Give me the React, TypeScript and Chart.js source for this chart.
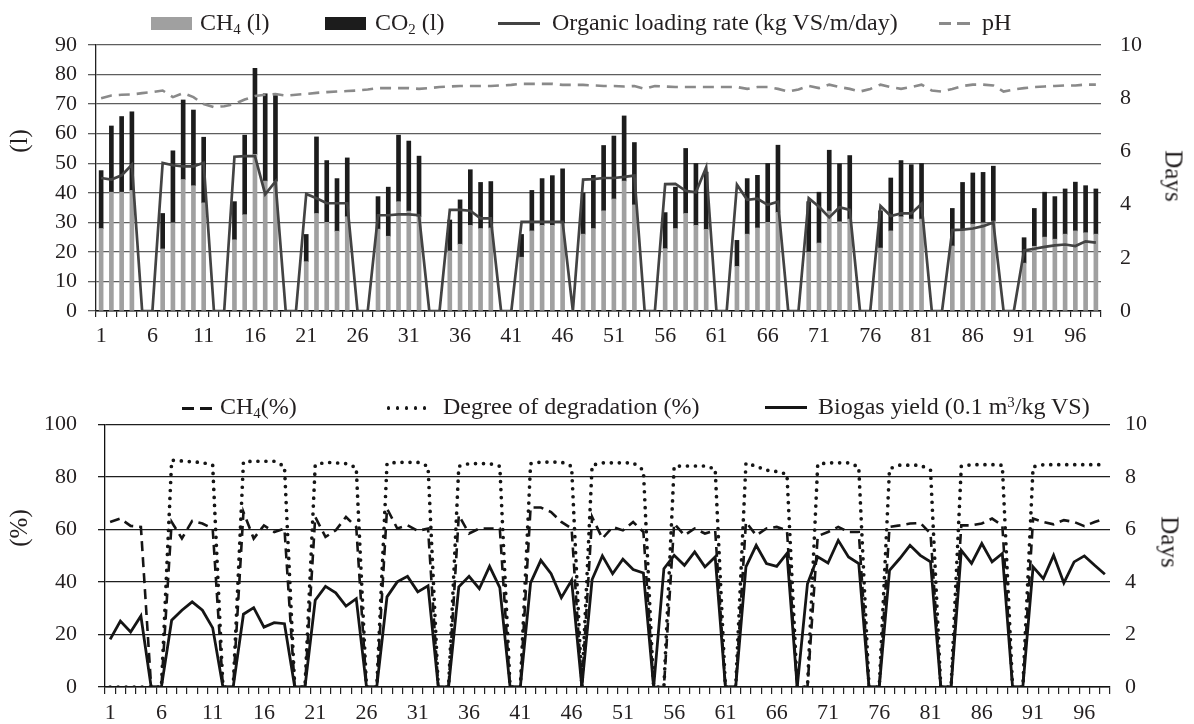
import React, { useEffect, useRef } from 'react';
import { Chart, registerables } from 'chart.js';

Chart.register(...registerables);

const FONT = "'Liberation Serif', 'Times New Roman', serif";
const INK = '#231f20';

// Day numbers on the category axis
const days: string[] = Array.from({ length: 98 }, (_, i) => String(i + 1));

// ---- Top panel ----
const ch4Litres = [
  27.9, 40.2, 40.2, 40.8, 0, 0, 21, 29.8, 44.5, 42.4,
  36.6, 0, 0, 24.1, 32.6, 53, 44, 43.8, 0, 0,
  16.7, 33, 30, 27, 31.9, 0, 0, 27.7, 25.3, 37,
  33.8, 31.9, 0, 0, 20.3, 22.6, 29, 27.9, 28.1, 0,
  0, 18.2, 27.1, 29, 29, 29.6, 0, 26, 27.9, 33.9,
  37.9, 44, 35.9, 0, 0, 21.1, 27.9, 33, 29, 27.6,
  0, 0, 15.1, 26, 28.1, 30, 33.4, 0, 0, 19.9,
  23, 33.8, 30.2, 31.1, 0, 0, 21.3, 27.1, 31.9, 31.1,
  31.1, 0, 0, 22, 27.3, 29.4, 29.8, 30.4, 0, 0,
  16.2, 21.9, 25, 24.3, 26, 27.1, 26.5, 26,
];

const co2Litres = [
  19.6, 22.4, 25.6, 26.6, 0, 0, 12, 24.4, 26.9, 25.6,
  22.2, 0, 0, 12.9, 26.9, 29.1, 29.5, 29.1, 0, 0,
  9.2, 25.9, 20.9, 17.8, 19.9, 0, 0, 11, 16.6, 22.5,
  23.7, 20.5, 0, 0, 10.5, 15, 18.8, 15.6, 15.7, 0,
  0, 7.7, 13.7, 15.8, 16.8, 18.5, 0, 13.9, 18, 22.1,
  21.3, 22, 21.1, 0, 0, 12.2, 14, 22, 20.9, 19.4,
  0, 0, 8.8, 18.8, 17.8, 19.9, 22.7, 0, 0, 17.1,
  17.2, 20.6, 19.6, 21.5, 0, 0, 12.6, 17.9, 19, 18.4,
  18.8, 0, 0, 12.7, 16.2, 17.3, 17.1, 18.6, 0, 0,
  8.6, 12.8, 15.2, 14.4, 15.3, 16.5, 15.9, 15.3,
];

const loadingRate = [
  5.0, 4.94, 5.1, 5.5, 0, 0, 5.57, 5.48, 5.44, 5.44,
  5.57, 0, 0, 5.8, 5.82, 5.82, 4.39, 4.87, 0, 0,
  4.4, 4.24, 4.05, 4.05, 4.05, 0, 0, 3.6, 3.6, 3.63,
  3.63, 3.6, 0, 0, 3.8, 3.8, 3.77, 3.48, 3.48, 0,
  0, 3.35, 3.35, 3.35, 3.35, 3.35, 0, 4.94, 4.96, 5.0,
  5.0, 5.04, 5.09, 0, 0, 4.77, 4.78, 4.52, 4.46, 5.4,
  0, 0, 4.75, 4.18, 4.22, 3.99, 4.11, 0, 0, 4.24,
  3.92, 3.52, 3.9, 3.8, 0, 0, 3.95, 3.57, 3.67, 3.67,
  4.03, 0, 0, 3.04, 3.06, 3.1, 3.19, 3.33, 0, 0,
  2.28, 2.34, 2.41, 2.47, 2.5, 2.44, 2.62, 2.57,
];

const phValues = [
  8.0, 8.1, 8.13, 8.14, 8.19, 8.23, 8.29, 8.04, 8.19, 8.04,
  7.78, 7.66, 7.7, 7.78, 7.95, 8.08, 8.13, 8.16, 8.1, 8.13,
  8.16, 8.2, 8.23, 8.25, 8.27, 8.29, 8.33, 8.38, 8.38, 8.38,
  8.38, 8.35, 8.38, 8.42, 8.44, 8.46, 8.46, 8.46, 8.46, 8.48,
  8.5, 8.54, 8.54, 8.54, 8.54, 8.5, 8.5, 8.5, 8.48, 8.46,
  8.46, 8.44, 8.46, 8.35, 8.46, 8.44, 8.42, 8.42, 8.42, 8.42,
  8.42, 8.42, 8.42, 8.35, 8.42, 8.42, 8.35, 8.25, 8.33, 8.46,
  8.38, 8.51, 8.42, 8.35, 8.25, 8.35, 8.51, 8.42, 8.35, 8.42,
  8.51, 8.29, 8.25, 8.35, 8.46, 8.51, 8.51, 8.48, 8.25, 8.33,
  8.38, 8.42, 8.44, 8.46, 8.48, 8.48, 8.51, 8.51,
];

// ---- Bottom panel ----
const ch4Percent = [
  62.8, 64.1, 61.3, 60.9, 0, 0, 62.8, 56.5, 63.2, 62.2,
  60.3, 0, 0, 66.6, 56.5, 61.5, 59, 60.3, 0, 0,
  64.7, 57.1, 59.6, 64.7, 60.9, 0, 0, 67.9, 60.3, 61.5,
  59.4, 60.3, 0, 0, 65.4, 58.4, 60.3, 60.3, 60.3, 0,
  0, 68.3, 68.3, 66.6, 62.8, 60.3, 0, 64.7, 56.5, 60.9,
  59.6, 62.8, 59, 0, 0, 62.2, 57.7, 60.3, 58.4, 59.6,
  0, 0, 62.8, 57.7, 60.3, 60.9, 59.6, 0, 0, 57.4,
  59, 60.9, 59, 59, 0, 0, 60.9, 61.5, 62.2, 62.4,
  58.4, 0, 0, 61.5, 61.5, 62.2, 64.1, 61.5, 0, 0,
  64.1, 62.8, 61.9, 63.5, 62.8, 61.2, 62.8, 64.1,
];

const degradation = [
  0, 0, 0, 0, 0, 0, 86.3, 86, 85.7, 85.4,
  84.4, 0, 0, 85.7, 85.9, 85.9, 85.9, 84, 0, 0,
  84.5, 85.5, 85.3, 85, 83.5, 0, 0, 85, 85.5, 85.5,
  85.5, 84, 0, 0, 84, 85, 85, 85, 84, 0,
  0, 85, 85.6, 85.6, 85.6, 84, 0, 84.4, 85.3, 85.3,
  85.3, 85.3, 82.5, 0, 0, 84, 84.1, 84.1, 84.1, 83,
  0, 0, 85.2, 84, 82.5, 82, 81, 0, 0, 84.8,
  85.3, 85.3, 85.3, 83.8, 0, 0, 83.1, 84.4, 84.4, 84.4,
  82.5, 0, 0, 84, 84.6, 84.6, 84.6, 84.4, 0, 0,
  83.8, 84.6, 84.6, 84.6, 84.6, 84.6, 84.6, 84.6,
];

const biogasYield = [
  18.1, 25.1, 20.9, 27, 0, 0, 25.4, 29.2, 32.4, 29.2,
  22.5, 0, 0, 27.7, 30.2, 22.8, 24.5, 24.1, 0, 0,
  33, 38.3, 35.8, 30.8, 33.6, 0, 0, 34.3, 40, 42.1,
  36.2, 38.5, 0, 0, 38.1, 42.1, 37.4, 45.9, 37.8, 0,
  0, 39.6, 48.2, 43.1, 34, 40.6, 0, 40.9, 49.9, 43.1,
  48.6, 44.7, 43.4, 0, 45, 50.1, 46.3, 51.4, 45.7, 49.5,
  0, 0, 45.7, 53.9, 47, 45.9, 50.8, 0, 39.3, 49.5,
  47.2, 55.8, 49.5, 47, 0, 0, 44.4, 48.9, 53.9, 50.1,
  47.6, 0, 0, 52, 47, 54.6, 47.6, 50.8, 0, 0,
  45.7, 41.2, 50.1, 39.6, 47.6, 49.9, 46.3, 42.9,
];

const tickFont = { family: FONT, size: 22 };

const xTickCallback = (_v: any, i: number) => (i % 5 === 0 ? days[i] : '');

export default function App() {
  const topRef = useRef<HTMLCanvasElement | null>(null);
  const botRef = useRef<HTMLCanvasElement | null>(null);

  useEffect(() => {
    const top = new Chart(topRef.current as HTMLCanvasElement, {
      type: 'bar',
      data: {
        labels: days,
        datasets: [
          {
            type: 'line',
            label: 'pH',
            data: phValues,
            yAxisID: 'y1',
            borderColor: '#8a8a8a',
            borderWidth: 2.6,
            borderDash: [11, 7],
            pointRadius: 0,
            tension: 0,
            order: 0,
          } as any,
          {
            type: 'line',
            label: 'Organic loading rate (kg VS/m/day)',
            data: loadingRate,
            yAxisID: 'y1',
            borderColor: '#434343',
            borderWidth: 2.7,
            pointRadius: 0,
            tension: 0,
            order: 1,
          } as any,
          {
            type: 'bar',
            label: 'CH4 (l)',
            data: ch4Litres,
            yAxisID: 'y',
            backgroundColor: '#a0a0a0',
            barThickness: 4,
            stack: 'gas',
            order: 2,
          },
          {
            type: 'bar',
            label: 'CO2 (l)',
            data: co2Litres,
            yAxisID: 'y',
            backgroundColor: '#1c1c1c',
            barThickness: 4,
            stack: 'gas',
            order: 2,
          },
        ],
      },
      options: {
        responsive: false,
        animation: false,
        layout: { padding: { top: 45, left: 0, right: 0, bottom: 0 } },
        plugins: { legend: { display: false }, tooltip: { enabled: false } },
        scales: {
          x: {
            stacked: true,
            offset: true,
            grid: {
              display: true,
              drawOnChartArea: false,
              drawTicks: true,
              tickLength: 6,
              offset: true,
              color: '#222',
              lineWidth: 1.2,
            },
            border: { display: true, color: '#111', width: 1.5 },
            ticks: {
              autoSkip: false,
              maxRotation: 0,
              minRotation: 0,
              padding: 6,
              color: INK,
              font: tickFont,
              callback: xTickCallback,
            },
            afterFit: (s: any) => {
              s.height = 39;
            },
          } as any,
          y: {
            stacked: true,
            min: 0,
            max: 90,
            ticks: { stepSize: 10, padding: 11, color: INK, font: tickFont },
            grid: { color: '#5e5e5e', lineWidth: 1.3, drawTicks: true, tickLength: 8 },
            border: { display: true, color: '#222', width: 1.3 },
            afterFit: (s: any) => {
              s.width = 96;
            },
          } as any,
          y1: {
            position: 'right',
            min: 0,
            max: 10,
            ticks: { stepSize: 2, padding: 19, color: INK, font: tickFont },
            grid: { display: false, drawTicks: false, drawOnChartArea: false },
            border: { display: false },
            afterFit: (s: any) => {
              s.width = 93;
            },
          } as any,
        },
      },
    });

    const bottom = new Chart(botRef.current as HTMLCanvasElement, {
      type: 'line',
      data: {
        labels: days,
        datasets: [
          {
            label: 'CH4(%)',
            data: ch4Percent,
            borderColor: '#151515',
            borderWidth: 2.6,
            borderDash: [10, 6],
            pointRadius: 0,
            tension: 0,
          },
          {
            label: 'Degree of degradation (%)',
            data: degradation,
            borderColor: '#151515',
            borderWidth: 3.7,
            borderDash: [0, 8],
            borderCapStyle: 'round',
            pointRadius: 0,
            tension: 0,
          },
          {
            label: 'Biogas yield (0.1 m3/kg VS)',
            data: biogasYield,
            borderColor: '#151515',
            borderWidth: 2.8,
            pointRadius: 0,
            tension: 0,
          },
        ],
      },
      options: {
        responsive: false,
        animation: false,
        layout: { padding: { top: 34, left: 0, right: 0, bottom: 0 } },
        plugins: { legend: { display: false }, tooltip: { enabled: false } },
        scales: {
          x: {
            offset: true,
            grid: {
              display: true,
              drawOnChartArea: false,
              drawTicks: true,
              tickLength: 7,
              offset: true,
              color: '#222',
              lineWidth: 1.2,
            },
            border: { display: true, color: '#111', width: 1.5 },
            ticks: {
              autoSkip: false,
              maxRotation: 0,
              minRotation: 0,
              padding: 6,
              color: INK,
              font: tickFont,
              callback: xTickCallback,
            },
            afterFit: (s: any) => {
              s.height = 37;
            },
          } as any,
          y: {
            min: 0,
            max: 100,
            ticks: { stepSize: 20, padding: 21, color: INK, font: tickFont },
            grid: { color: '#1e1e1e', lineWidth: 1.3, drawTicks: true, tickLength: 7 },
            border: { display: true, color: '#111', width: 1.3 },
            afterFit: (s: any) => {
              s.width = 105;
            },
          } as any,
          y1: {
            position: 'right',
            min: 0,
            max: 10,
            ticks: { stepSize: 2, padding: 15, color: INK, font: tickFont },
            grid: { display: false, drawTicks: false, drawOnChartArea: false },
            border: { display: false },
            afterFit: (s: any) => {
              s.width = 84;
            },
          } as any,
        },
      },
    });

    return () => {
      top.destroy();
      bottom.destroy();
    };
  }, []);

  const txt = (left: number, baseline: number, content: React.ReactNode, size = 24) => (
    <div
      style={{
        position: 'absolute',
        left,
        top: baseline - Math.round(size * 0.84),
        fontFamily: FONT,
        fontSize: size,
        lineHeight: `${size}px`,
        color: INK,
        whiteSpace: 'nowrap',
      }}
    >
      {content}
    </div>
  );

  const rotated = (cx: number, cy: number, content: string, deg: number) => (
    <div
      style={{
        position: 'absolute',
        left: cx,
        top: cy,
        transform: `translate(-50%, -50%) rotate(${deg}deg)`,
        fontFamily: FONT,
        fontSize: 25,
        lineHeight: '25px',
        color: INK,
        whiteSpace: 'nowrap',
      }}
    >
      {content}
    </div>
  );

  const box = (left: number, top: number, width: number, height: number, bg: string, radius = 0) => (
    <div style={{ position: 'absolute', left, top, width, height, background: bg, borderRadius: radius }} />
  );

  const sub = (s: string) => (
    <span style={{ fontSize: '0.62em', position: 'relative', top: '0.3em' }}>{s}</span>
  );
  const sup = (s: string) => (
    <span style={{ fontSize: '0.62em', position: 'relative', top: '-0.45em' }}>{s}</span>
  );

  return (
    <div
      style={{
        position: 'absolute',
        left: 0,
        top: 0,
        width: 1194,
        height: 724,
        background: '#ffffff',
        overflow: 'hidden',
      }}
    >
      <canvas ref={topRef} width={1194} height={350} style={{ position: 'absolute', left: 0, top: 0, width: 1194, height: 350 }} />
      <canvas ref={botRef} width={1194} height={334} style={{ position: 'absolute', left: 0, top: 390, width: 1194, height: 334 }} />

      {/* Top legend */}
      {box(151, 17, 41, 13, '#a0a0a0')}
      {txt(200, 30, <>CH{sub('4')} (l)</>)}
      {box(325, 17, 41, 13, '#1c1c1c')}
      {txt(375, 30, <>CO{sub('2')} (l)</>)}
      {box(498, 22, 42, 3, '#434343')}
      {txt(552, 30, 'Organic loading rate (kg VS/m/day)')}
      {box(939, 22, 12, 3, '#8a8a8a')}
      {box(957, 22, 13, 3, '#8a8a8a')}
      {txt(982, 30, 'pH')}

      {/* Bottom legend */}
      {box(182, 407, 12, 3, '#151515')}
      {box(200, 407, 12, 3, '#151515')}
      {txt(220, 414, <>CH{sub('4')}(%)</>)}
      {box(386.5, 406, 3.6, 3.6, '#151515', 2)}
      {box(395.5, 406, 3.6, 3.6, '#151515', 2)}
      {box(404.5, 406, 3.6, 3.6, '#151515', 2)}
      {box(413.5, 406, 3.6, 3.6, '#151515', 2)}
      {box(422.5, 406, 3.6, 3.6, '#151515', 2)}
      {txt(443, 414, 'Degree of degradation (%)')}
      {box(765, 406, 42, 3, '#151515')}
      {txt(818, 414, <>Biogas yield (0.1 m{sup('3')}/kg VS)</>)}

      {/* Axis titles */}
      {rotated(18, 141, '(l)', -90)}
      {rotated(1174, 176, 'Days', 90)}
      {rotated(18, 528, '(%)', -90)}
      {rotated(1170, 542, 'Days', 90)}
    </div>
  );
}
